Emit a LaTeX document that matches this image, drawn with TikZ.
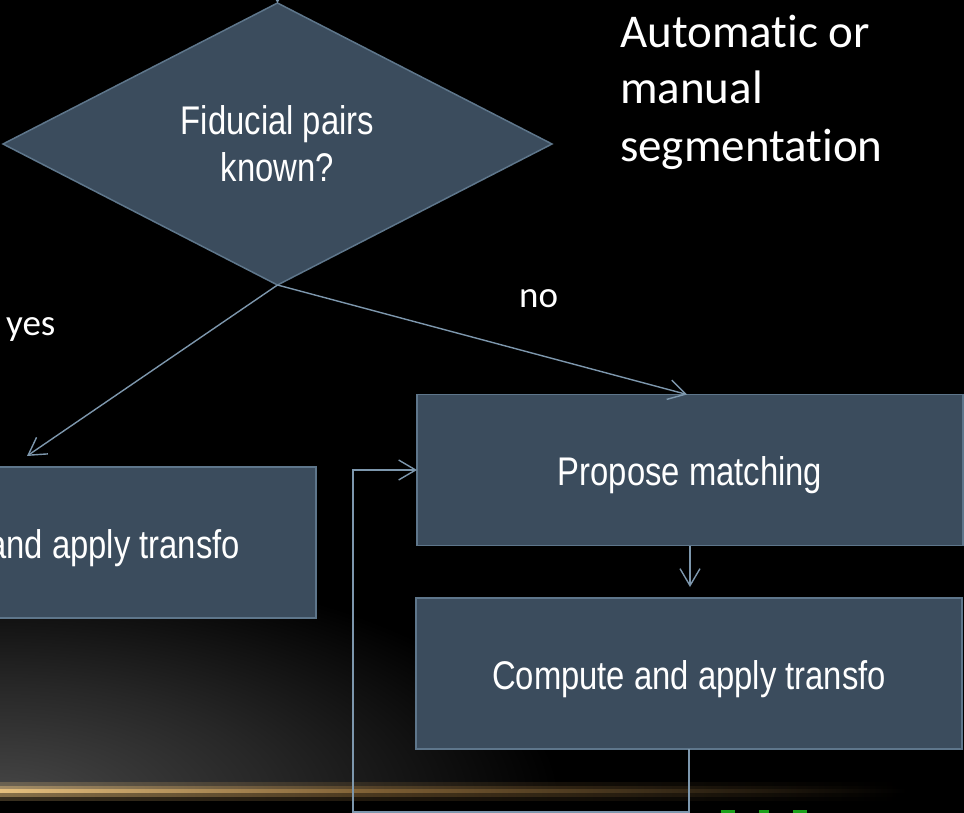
\documentclass[tikz,border=0pt]{standalone}
\usepackage{fontspec}
\setmainfont{Liberation Sans}
\newfontfamily\narrowfont[FakeStretch=0.82]{Liberation Sans}
\newfontfamily\calfont[Ligatures={NoCommon,NoContextual,NoRare},Contextuals=NoAlternate]{Carlito}
\usetikzlibrary{shapes.geometric,arrows.meta,calc}
\definecolor{boxfill}{HTML}{3B4C5D}
\definecolor{boxline}{HTML}{5E768B}
\definecolor{arrcol}{HTML}{7D97AD}
\definecolor{goldA}{HTML}{E6C07E}
\definecolor{goldB}{HTML}{7A5C32}
\definecolor{greyglow}{HTML}{474747}
\definecolor{greenmark}{HTML}{22C822}
\pgfdeclareradialshading{greyglowsh}{\pgfpoint{0bp}{0bp}}{color(0bp)=(greyglow); color(12bp)=(greyglow!55!black); color(25bp)=(black); color(50bp)=(black)}
\pgfdeclarehorizontalshading{goldcoresh}{100bp}{color(0bp)=(goldA); color(25bp)=(goldA); color(45bp)=(goldB); color(72bp)=(black); color(100bp)=(black)}
\tikzset{
  stepbox/.style={rectangle, draw=boxline, fill=boxfill, line width=1.5pt,
    minimum width=546pt, minimum height=151pt, inner sep=0pt, outer sep=0pt,
    text=white, font=\narrowfont\fontsize{40}{47}\selectfont,
    text height=31pt, text depth=0pt},
  decision/.style={diamond, draw=boxline, fill=boxfill, line width=1.5pt,
    minimum width=549pt, minimum height=282pt, inner sep=0pt, outer sep=0pt,
    text=white, align=center, font=\narrowfont\fontsize{40}{47}\selectfont},
  flowarrow/.style={draw=arrcol, line width=1.4pt, -{Straight Barb[length=17pt,width=20pt]}},
  lbl/.style={text=white, inner sep=0pt, anchor=base west, font=\calfont\fontsize{37}{44}\selectfont},
  note/.style={text=white, inner sep=0pt, anchor=base west, font=\calfont\fontsize{47}{57}\selectfont}
}
\begin{document}
\begin{tikzpicture}[x=1pt,y=-1pt]
\useasboundingbox (0,0) rectangle (964,813);
\begin{scope}
\clip (0,0) rectangle (964,813);
\fill[black] (0,0) rectangle (964,813);
\begin{scope}
  \clip (0,0) rectangle (964,788);
  \shade[shading=greyglowsh] (0,800) ellipse (560 and 240);
\end{scope}
\shade[shading=goldcoresh, opacity=0.25] (0,782) rectangle (964,800);
\shade[shading=goldcoresh, opacity=0.45] (0,786) rectangle (964,796);
\shade[shading=goldcoresh] (0,789.5) rectangle (964,792.5);
\fill[greenmark, opacity=0.8] (721,810) rectangle (735,813);
\fill[greenmark, opacity=0.8] (759,809.5) rectangle (769,813);
\fill[greenmark, opacity=0.8] (793,810) rectangle (807,813);

\node[decision] (d) at (277.5,144) {Fiducial pairs\\known?};
\node[stepbox] (L) at (43,542.5) {Compute and apply transfo};
\node[stepbox] (P) at (690,470) {Propose matching};
\node[stepbox] (C) at (689,673.5) {Compute and apply transfo};

\node[note] (n1) at (620,48) {Automatic or};
\node[note] (n2) at (620,104) {manual};
\node[note] (n3) at (620,162) {segmentation};
\node[lbl] (yes) at (6,335) {yes};
\node[lbl] (no) at (519,307) {no};

\coordinate (above) at (277.5,-30);
\draw[flowarrow] (above) -- (d.north);
\coordinate (yesend) at (27,456);
\draw[flowarrow] (d.south) -- (yesend);
\draw[flowarrow] (d.south) -- ($(P.north)+(-3,0)$);
\draw[flowarrow, shorten >=11pt] (P.south) -- (P.south |- C.north);
\draw[flowarrow] (C.south) -- ++(0,63) -| ($(P.west)+(-64,0)$) -- (P.west);
\end{scope}
\end{tikzpicture}
\end{document}
